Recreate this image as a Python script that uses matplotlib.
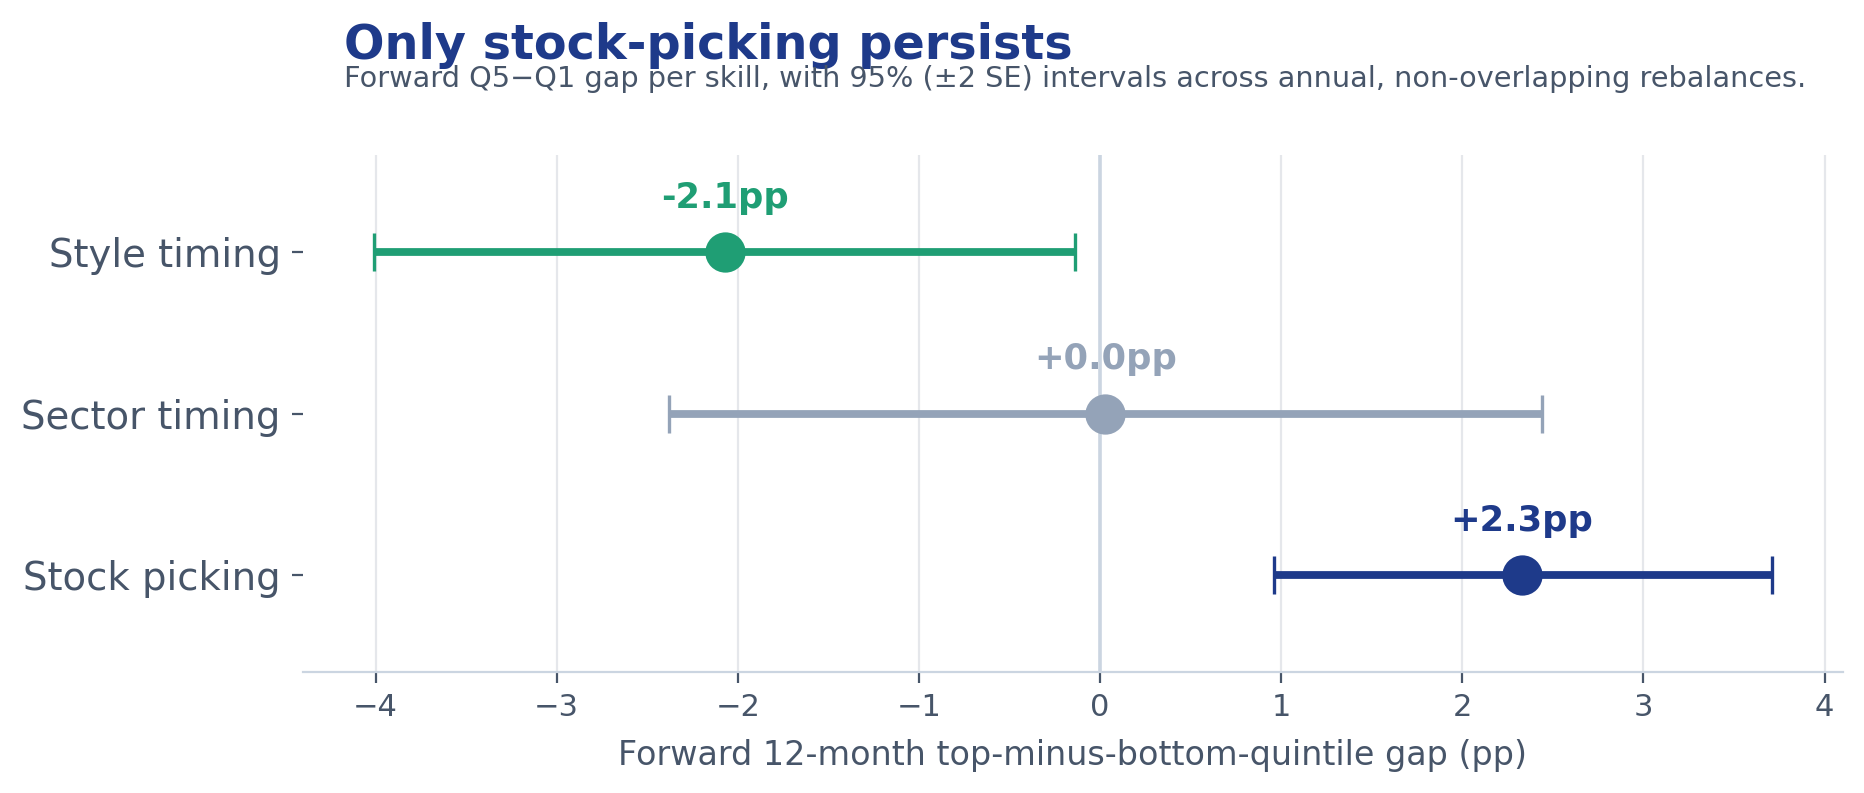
import matplotlib.pyplot as plt

skills = ['Stock picking', 'Sector timing', 'Style timing']
gap = [2.33, 0.03, -2.07]
lo = [0.96, -2.38, -4.01]
hi = [3.71, 2.44, -0.14]
labels = ['+2.3pp', '+0.0pp', '-2.1pp']
colors = ['#1e3a8a', '#94a3b8', '#1f9e74']

ink = '#475569'

fig, ax = plt.subplots(figsize=(9.325, 3.965), dpi=200)
fig.subplots_adjust(left=0.1625, right=0.988, top=0.805, bottom=0.152)

for i, name in enumerate(skills):
    ax.errorbar(gap[i], i, xerr=[[gap[i] - lo[i]], [hi[i] - gap[i]]],
                fmt='o', color=colors[i], ms=13.5, lw=2.8,
                capsize=7, capthick=1.2, zorder=3)
    ax.text(gap[i], i + 0.23, labels[i], ha='center', va='bottom',
            color=colors[i], fontsize=12.7, fontweight='bold')

ax.axvline(0, color='#cbd5e1', lw=1.3, zorder=1)

ax.set_yticks(range(len(skills)))
ax.set_yticklabels(skills, fontsize=13.9, color=ink)
ax.set_ylim(-0.6, 2.6)
ax.set_xlim(-4.40, 4.10)
ax.set_xticks(range(-4, 5))
ax.tick_params(axis='x', labelsize=11, colors=ink, length=4)
ax.tick_params(axis='y', colors=ink, length=4, pad=4)
ax.grid(axis='x', color='#e5e7eb', lw=0.8, zorder=0)
ax.set_axisbelow(True)

for s in ['top', 'right', 'left']:
    ax.spines[s].set_visible(False)
ax.spines['bottom'].set_color('#cbd5e1')

ax.set_xlabel('Forward 12-month top-minus-bottom-quintile gap (pp)',
              fontsize=12, color=ink, labelpad=6)

fig.text(0.1845, 0.943, 'Only stock-picking persists', fontsize=17.2,
         fontweight='bold', color='#1e3a8a', va='center')
fig.text(0.1845, 0.9, 'Forward Q5\u2212Q1 gap per skill, with 95% (\u00b12 SE) intervals across annual, non-overlapping rebalances.',
         fontsize=10.35, color=ink, va='center')

fig.savefig('out.png', dpi=200)
